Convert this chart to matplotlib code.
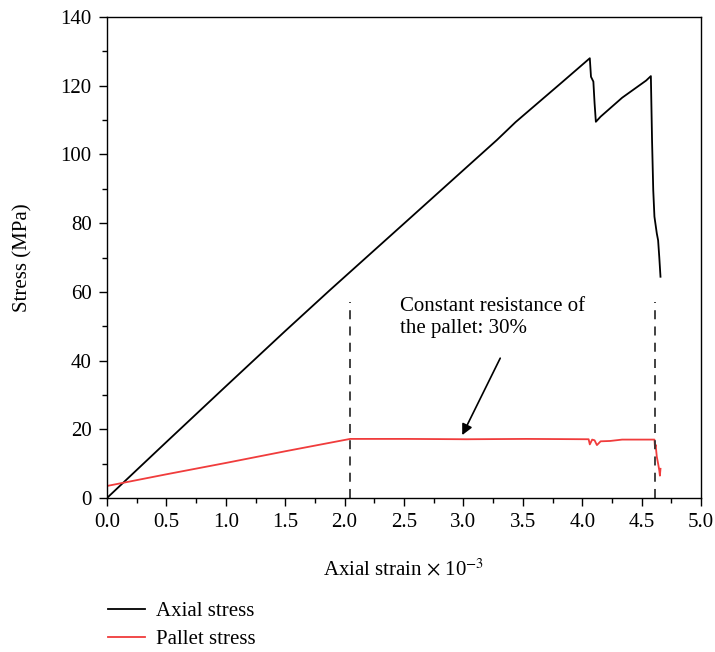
import matplotlib
matplotlib.use("Agg")
import matplotlib.pyplot as plt
from matplotlib.ticker import MultipleLocator, FormatStrFormatter

plt.rcParams['font.family'] = ['Liberation Serif', 'DejaVu Serif']
plt.rcParams['mathtext.fontset'] = 'stix'

# Axial stress (strain x1e-3, MPa)
axial_strain = [0.0, 0.5, 1.0, 1.5, 1.876, 2.52, 3.076, 3.282, 3.439, 3.83, 4.064,
                4.074, 4.094, 4.104, 4.115, 4.155, 4.336, 4.538, 4.578,
                4.588, 4.598, 4.608, 4.628, 4.639, 4.649, 4.659]
axial_stress = [0.0, 16.3, 32.5, 48.6, 60.5, 80.5, 97.8, 104.2, 109.4, 121.0, 128.0,
                122.6, 121.2, 115.0, 109.5, 111.0, 116.5, 121.5, 122.8,
                104.0, 89.6, 81.9, 77.0, 75.0, 70.0, 64.4]

# Pallet stress
pallet_strain = [0.0, 0.5, 1.0, 1.5, 2.047, 2.52, 3.025, 3.53, 4.054, 4.064, 4.084, 4.104,
                 4.124, 4.155, 4.235, 4.336, 4.538, 4.608, 4.613, 4.618, 4.628, 4.639,
                 4.649, 4.654, 4.659]
pallet_stress = [3.5, 6.9, 10.2, 13.6, 17.2, 17.2, 17.1, 17.2, 17.1, 15.6, 17.0, 16.8,
                 15.4, 16.5, 16.6, 17.0, 17.0, 17.0, 14.5, 15.5, 12.0, 10.0, 8.0, 6.5, 8.5]

dashed_x = [2.047, 4.613]

FS = 15

fig = plt.figure(figsize=(7.15, 6.52), dpi=100)
ax = fig.add_axes([107/715, 1-498/652, (701-107)/715, (498-17)/652])

l1, = ax.plot(axial_strain, axial_stress, color='black', lw=1.3, label='Axial stress')
l2, = ax.plot(pallet_strain, pallet_stress, color='#f03c3c', lw=1.3, label='Pallet stress')
for xv in dashed_x:
    ax.plot([xv, xv], [0, 57], color='#333333', lw=1.3, ls=(0, (5, 4)))

ax.set_xlim(0, 5.0)
ax.set_ylim(0, 140)
ax.xaxis.set_major_locator(MultipleLocator(0.5))
ax.xaxis.set_minor_locator(MultipleLocator(0.25))
ax.yaxis.set_major_locator(MultipleLocator(20))
ax.yaxis.set_minor_locator(MultipleLocator(10))
ax.xaxis.set_major_formatter(FormatStrFormatter('%.1f'))
ax.tick_params(which='major', direction='out', length=6, width=1, labelsize=FS, pad=5)
ax.tick_params(which='minor', direction='out', length=3.5, width=1)
for s in ax.spines.values():
    s.set_linewidth(1.0)

ax.set_xlabel(r'Axial strain $\times$ 10$^{-3}$', fontsize=FS)
ax.xaxis.set_label_coords(0.5, (498-559)/481)
ax.set_ylabel('Stress (MPa)', fontsize=FS)
ax.yaxis.set_label_coords((32-107)/594, 0.5)

ax.text(2.47, 58.6, 'Constant resistance of\nthe pallet: 30%', fontsize=FS,
        ha='left', va='top', linespacing=1.25)
ax.annotate('', xy=(2.99, 18.3), xytext=(3.31, 40.7),
            arrowprops=dict(arrowstyle='-|>', color='black', lw=1.2,
                            mutation_scale=16, shrinkA=0, shrinkB=0))

fig.legend(handles=[l1, l2], loc='upper left', bbox_to_anchor=(89/715, 1-583/652),
           frameon=False, fontsize=FS, handlelength=1.8, labelspacing=0.4,
           handletextpad=0.5)

fig.savefig('out.png', dpi=100)
